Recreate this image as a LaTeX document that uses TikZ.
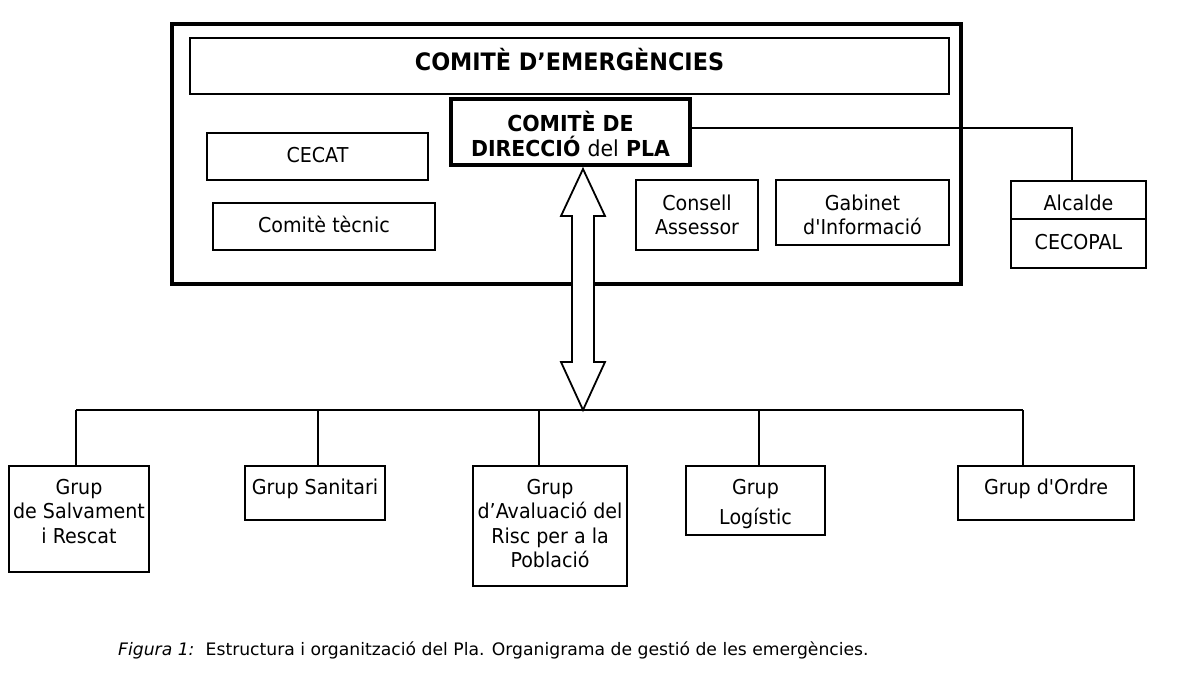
\documentclass[tikz,border=0pt]{standalone}
\usepackage{fontspec}
\setmainfont{DejaVu Sans}[FakeStretch=0.93, Ligatures=TeXOff]
\newfontfamily\capfont{DejaVu Sans}
\tikzset{
  box/.style={draw, line width=1.8pt, inner sep=0pt, outer sep=0pt},
  txt/.style={font=\fontsize{20.5}{24.5}\selectfont, align=center, inner sep=0pt},
  btxt/.style={font=\bfseries\fontsize{22}{25}\selectfont, inner sep=0pt},
  ttxt/.style={font=\bfseries\fontsize{24}{29}\selectfont, inner sep=0pt},
  link/.style={line width=1.8pt},
}
\begin{document}
\begin{tikzpicture}[x=1pt,y=-1pt]
\useasboundingbox (0,0) rectangle (1200,686);
% outer committee frame
\node[box, line width=4.5pt, minimum width=789pt, minimum height=260pt] (outer) at (566.5,154) {};
\node[box, line width=2pt, minimum width=759pt, minimum height=56pt] (title) at (569.5,66) {};
\node[ttxt, anchor=base] (titlet) at (569.5,70) {COMITÈ D’EMERGÈNCIES};
% direction committee
\node[box, line width=3.2pt, minimum width=239pt, minimum height=66pt] (dir) at (570.5,132) {};
\node[btxt, anchor=base] (dirt1) at (570.5,131) {COMITÈ DE};
\node[btxt, anchor=base] (dirt2) at (570.5,156) {DIRECCIÓ {\mdseries del} PLA};
% inner boxes
\node[box, minimum width=221pt, minimum height=47pt] (cecat) at (317.5,156.5) {};
\node[txt, anchor=base] (cecatt) at (317.5,162) {CECAT};
\node[box, minimum width=222pt, minimum height=47pt] (tec) at (324,226.5) {};
\node[txt, anchor=base] (tect) at (324,232) {Comitè tècnic};
\node[box, minimum width=122pt, minimum height=70pt] (cons) at (697,215) {};
\node[txt, anchor=north] (const) at (697,192.85) {\strut Consell\\Assessor};
\node[box, minimum width=173pt, minimum height=65pt] (gab) at (862.5,212.5) {};
\node[txt, anchor=north] (gabt) at (862.5,192.85) {\strut Gabinet\\d'Informació};
% mayor
\node[box, minimum width=135pt, minimum height=38pt] (alc) at (1078.5,200) {};
\node[txt, anchor=base] (alct) at (1078.5,210) {Alcalde};
\node[box, minimum width=135pt, minimum height=49pt] (cecopal) at (1078.5,243.5) {};
\node[txt, anchor=base] (cecopalt) at (1078.5,249) {CECOPAL};
\coordinate (corner) at (1072,128);
\draw[link] (dir.east |- corner) -- (corner) -- (corner |- alc.north);
% bottom groups
\node[box, minimum width=140pt, minimum height=106pt] (g1) at (79,519) {};
\node[txt, anchor=north] (g1t) at (79,476.85) {\strut Grup\\de Salvament\\i Rescat};
\node[box, minimum width=140pt, minimum height=54pt] (g2) at (315,493) {};
\node[txt, anchor=base] (g2t) at (315,494) {Grup Sanitari};
\node[box, minimum width=154pt, minimum height=120pt] (g3) at (550,526) {};
\node[txt, anchor=north] (g3t) at (550,476.85) {\strut Grup\\d’Avaluació del\\Risc per a la\\Població};
\node[box, minimum width=139pt, minimum height=69pt] (g4) at (755.5,500.5) {};
\node[txt, anchor=north] (g4t) at (755.5,476.85) {\strut Grup\\[6pt]Logístic};
\node[box, minimum width=176pt, minimum height=54pt] (g5) at (1046,493) {};
\node[txt, anchor=base] (g5t) at (1046,494) {Grup d'Ordre};
% bus
\coordinate (d1) at (76,410);
\coordinate (d2) at (318,410);
\coordinate (d3) at (539,410);
\coordinate (d4) at (759,410);
\coordinate (d5) at (1023,410);
\draw[link] (d1) -- (d5);
\draw[link] (d1) -- (d1 |- g1.north);
\draw[link] (d2) -- (d2 |- g2.north);
\draw[link] (d3) -- (d3 |- g3.north);
\draw[link] (d4) -- (d4 |- g4.north);
\draw[link] (d5) -- (d5 |- g5.north);
% double arrow
\coordinate (atop) at (583,169);
\coordinate (abot) at (583,410);
\draw[line width=1.8pt, fill=white, line join=miter]
  (atop) -- ++(22,47) -- ++(-11,0) -- ++(0,146) -- ++(11,0) -- (abot)
  -- ++(-22,-48) -- ++(11,0) -- ++(0,-146) -- ++(-11,0) -- cycle;
% caption
\node[anchor=base west, font=\capfont\fontsize{17.2}{20}\selectfont, inner sep=0pt] (cap) at (118,655)
  {\textit{Figura 1:}\hspace{0.65em}Estructura i organització del Pla. Organigrama de gestió de les emergències.};
\end{tikzpicture}
\end{document}
